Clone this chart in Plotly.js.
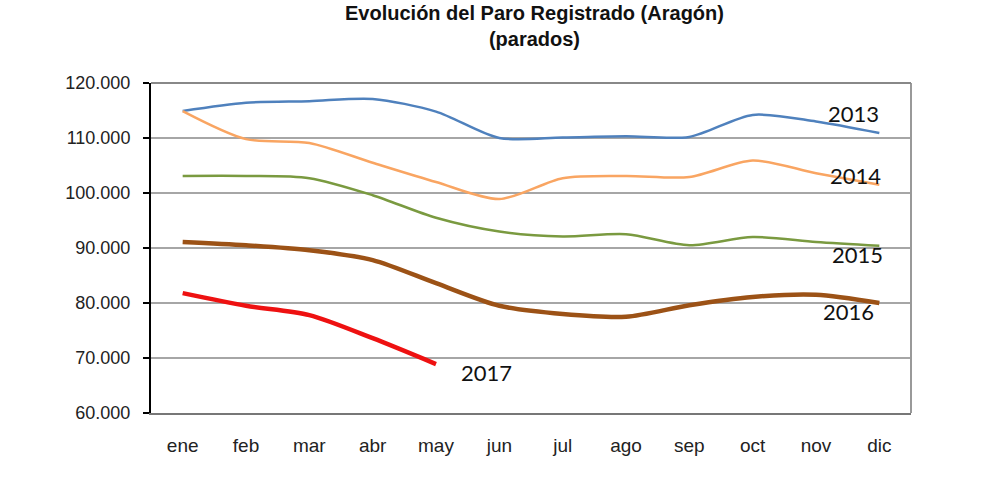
<!DOCTYPE html>
<html>
<head>
<meta charset="utf-8">
<script src="https://cdn.plot.ly/plotly-3.0.1.min.js"></script>
<style>html,body{margin:0;padding:0;background:#fff;}#chart{width:990px;height:491px;}</style>
</head>
<body>
<div id="chart"></div>
<script>
const months = ["ene","feb","mar","abr","may","jun","jul","ago","sep","oct","nov","dic"];
const y2013 = [114900,116400,116700,117100,114800,110000,110100,110300,110200,114200,113000,110900];
const y2014 = [114900,109800,109100,105500,102000,98900,102700,103100,102900,105900,103600,101500];
const y2015 = [103100,103100,102700,99600,95500,93000,92100,92500,90500,92000,91100,90400];
const y2016 = [91100,90500,89600,87800,83600,79500,78000,77500,79600,81100,81500,80000];
const y2017 = [81800,79500,77800,73600,68900];
const seriesNames = ["2013","2014","2015","2016","2017"];
const yTicks = [60000,70000,80000,90000,100000,110000,120000];
const yTickText = ["60.000","70.000","80.000","90.000","100.000","110.000","120.000"];
const titleText = "<b>Evolución del Paro Registrado (Aragón)<br>(parados)</b>";

const seriesData = [y2013,y2014,y2015,y2016,y2017];
const colors = ["#4f81bd","#f9a562","#7a9a40","#9c5216","#ee1111"];
const widths = [2.5,2.5,2.5,4.5,4.5];

const traces = seriesData.map((ys,i)=>({
  type:"scatter", mode:"lines",
  x: months.slice(0, ys.length), y: ys, name: seriesNames[i],
  line:{color:colors[i], width:widths[i], shape:"spline", smoothing:0.8},
  hoverinfo:"skip"
}));

// label positions: [category, value, xshift, yshift]
const labelPos = [
  ["nov", 114500, 37, 0],
  ["nov", 103100, 39, 0],
  ["nov", 88900, 41, 0],
  ["nov", 78400, 32, 0],
  ["may", 67300, 50, 0]
];
const annotations = labelPos.map((p,i)=>({
  x:p[0], y:p[1], xref:"x", yref:"y", text:seriesNames[i], showarrow:false,
  xshift:p[2], yshift:p[3], font:{family:"Lato, 'Open Sans', sans-serif", size:22, color:"#111"}
}));
annotations.push({
  x:0.505, xref:"paper", y:1, yref:"paper", yanchor:"bottom", xanchor:"center", yshift:31,
  text:titleText, showarrow:false,
  font:{family:"'Liberation Sans', Arial, sans-serif", size:20, color:"#111"}
});

const layout = {
  width:990, height:491,
  margin:{l:151, r:79, t:83, b:78},
  paper_bgcolor:"#fff", plot_bgcolor:"#fff",
  showlegend:false,
  xaxis:{type:"category", range:[-0.5,11.5], showgrid:false, zeroline:false,
    showline:true, linecolor:"#777", linewidth:2, mirror:false, ticks:"",
    ticklabelstandoff:14,
    tickfont:{family:"'Liberation Sans', Arial, sans-serif", size:19, color:"#222"}},
  yaxis:{range:[60000,120000], tickvals:yTicks, ticktext:yTickText,
    showgrid:true, gridcolor:"#a6a6a6", gridwidth:2, zeroline:false,
    showline:true, linecolor:"#000", linewidth:2, ticks:"outside", ticklen:6, tickcolor:"#000", tickwidth:2,
    ticklabelstandoff:9,
    tickfont:{family:"'Liberation Sans', Arial, sans-serif", size:18, color:"#222"}},
  annotations: annotations,
  shapes:[
    {type:"line", xref:"paper", yref:"paper", x0:1, x1:1, y0:0, y1:1, line:{color:"#999", width:2}},
    {type:"line", xref:"paper", yref:"paper", x0:0, x1:1, y0:1, y1:1, line:{color:"#888", width:2}}
  ]
};
Plotly.newPlot("chart", traces, layout, {staticPlot:true, displayModeBar:false});
</script>
</body>
</html>
